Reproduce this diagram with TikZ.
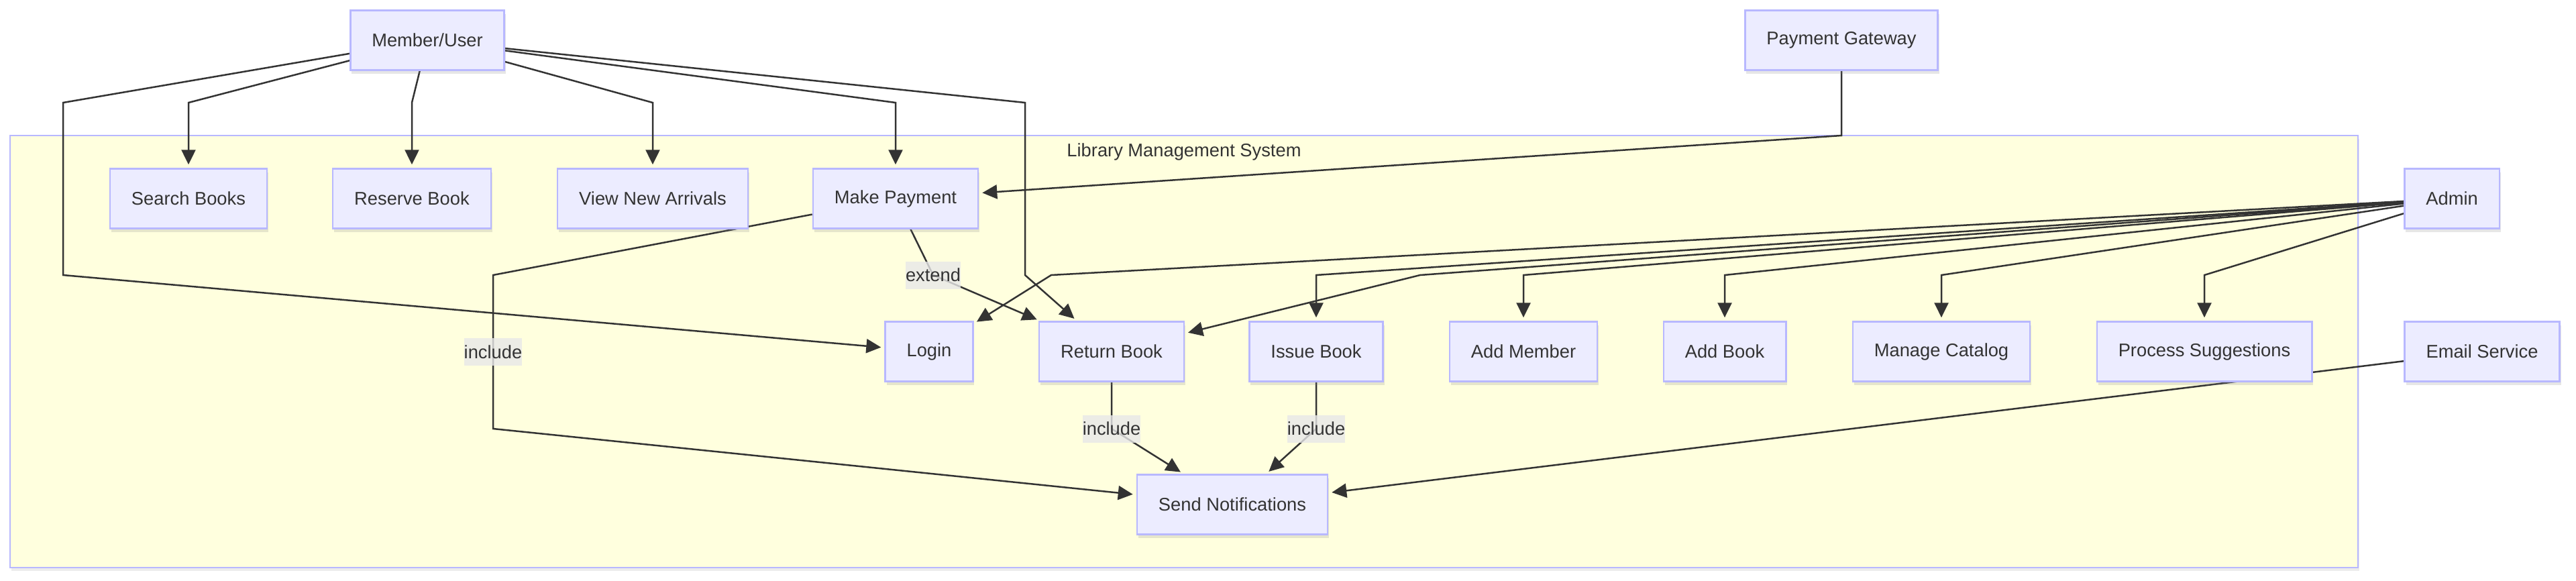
\documentclass[tikz,border=0pt]{standalone}
\usepackage{fontspec}
\setmainfont{Liberation Sans}
\usetikzlibrary{arrows.meta,shadows}
\definecolor{boxfill}{HTML}{ECECFF}
\definecolor{boxline}{HTML}{B8B8FF}
\definecolor{sysfill}{HTML}{FFFFDE}
\definecolor{ink}{HTML}{333333}
\definecolor{lblfill}{HTML}{E8E8E8}
\pgfdeclarelayer{frame}
\pgfdeclarelayer{edges}
\pgfsetlayers{frame,edges,main}
\begin{document}
\begin{tikzpicture}[txt/.style={text=ink, font=\fontsize{7.77}{9.3}\selectfont},
	usecase/.style={txt, rectangle, draw=boxline, fill=boxfill, line width=0.025cm, minimum height=0.89cm, inner xsep=0.32cm, drop shadow={shadow xshift=0.02cm, shadow yshift=-0.05cm, opacity=0.2}},
	sysframe/.style={rectangle, draw=boxline, fill=sysfill, line width=0.025cm, minimum width=35cm, minimum height=6.44cm, drop shadow={shadow xshift=0.02cm, shadow yshift=-0.05cm, opacity=0.15}},
	link/.style={draw=ink, line width=0.025cm, -{Triangle[length=0.22cm, width=0.21cm]}, shorten >=0.05cm},
	rel/.style={txt, fill=lblfill, fill opacity=0.8, text opacity=1, inner xsep=0pt, inner ysep=0pt, minimum height=0.41cm}]
	\useasboundingbox (0,0) rectangle (38.4,-8.65);
	% system boundary
	\begin{pgfonlayer}{frame}
		\node[sysframe] at (17.65,-5.24) (system) {};
		\node[txt, anchor=north] at (17.65,-2.01) (systitle) {Library Management System};
	\end{pgfonlayer}
	% actors
	\node[usecase] at (6.37,-0.60) (user) {Member/User};
	\node[usecase] at (27.45,-0.60) (gateway) {Payment Gateway};
	\node[usecase] at (36.55,-2.96) (admin) {Admin};
	\node[usecase] at (37.00,-5.24) (email) {Email Service};
	% use cases
	\node[usecase] at (2.81,-2.96) (search) {Search Books};
	\node[usecase] at (6.14,-2.96) (reserve) {Reserve Book};
	\node[usecase] at (9.73,-2.96) (arrivals) {View New Arrivals};
	\node[usecase] at (13.35,-2.96) (payment) {Make Payment};
	\node[usecase] at (13.85,-5.24) (login) {Login};
	\node[usecase] at (16.57,-5.24) (returnbook) {Return Book};
	\node[usecase] at (19.62,-5.24) (issue) {Issue Book};
	\node[usecase] at (22.71,-5.24) (addmember) {Add Member};
	\node[usecase] at (25.71,-5.24) (addbook) {Add Book};
	\node[usecase] at (28.94,-5.24) (catalog) {Manage Catalog};
	\node[usecase] at (32.86,-5.24) (suggest) {Process Suggestions};
	\node[usecase] at (18.37,-7.52) (notify) {Send Notifications};
	\begin{pgfonlayer}{edges}
		\draw[link] (user) -- (2.81,-1.53) -- (search);
		\draw[link] (user) -- (6.14,-1.53) -- (reserve);
		\draw[link] (user) -- (9.73,-1.53) -- (arrivals);
		\draw[link] (user) -- (13.35,-1.53) -- (payment);
		\draw[link] (user) -- (15.28,-1.53) -- (15.28,-4.10) -- (returnbook);
		\draw[link] (user) -- (0.94,-1.53) -- (0.94,-4.10) -- (login);
		\draw[link] (gateway) -- (27.45,-2.02) -- (payment);
		\draw[link] (payment) -- (7.35,-4.10) -- (7.35,-6.39) node[rel, midway] {include} -- (notify);
		\draw[link] (payment) -- (13.91,-4.10) node[rel] {extend} -- (returnbook);
		\draw[link] (returnbook) -- (16.57,-6.39) node[rel] {include} -- (notify);
		\draw[link] (issue) -- (19.62,-6.39) node[rel] {include} -- (notify);
		\draw[link] (email) -- (notify);
		\draw[link] (admin) -- (15.67,-4.10) -- (login);
		\draw[link] (admin) -- (21.17,-4.10) -- (returnbook);
		\draw[link] (admin) -- (19.62,-4.10) -- (issue);
		\draw[link] (admin) -- (22.71,-4.10) -- (addmember);
		\draw[link] (admin) -- (25.71,-4.10) -- (addbook);
		\draw[link] (admin) -- (28.94,-4.10) -- (catalog);
		\draw[link] (admin) -- (32.86,-4.10) -- (suggest);
	\end{pgfonlayer}
\end{tikzpicture}
\end{document}
